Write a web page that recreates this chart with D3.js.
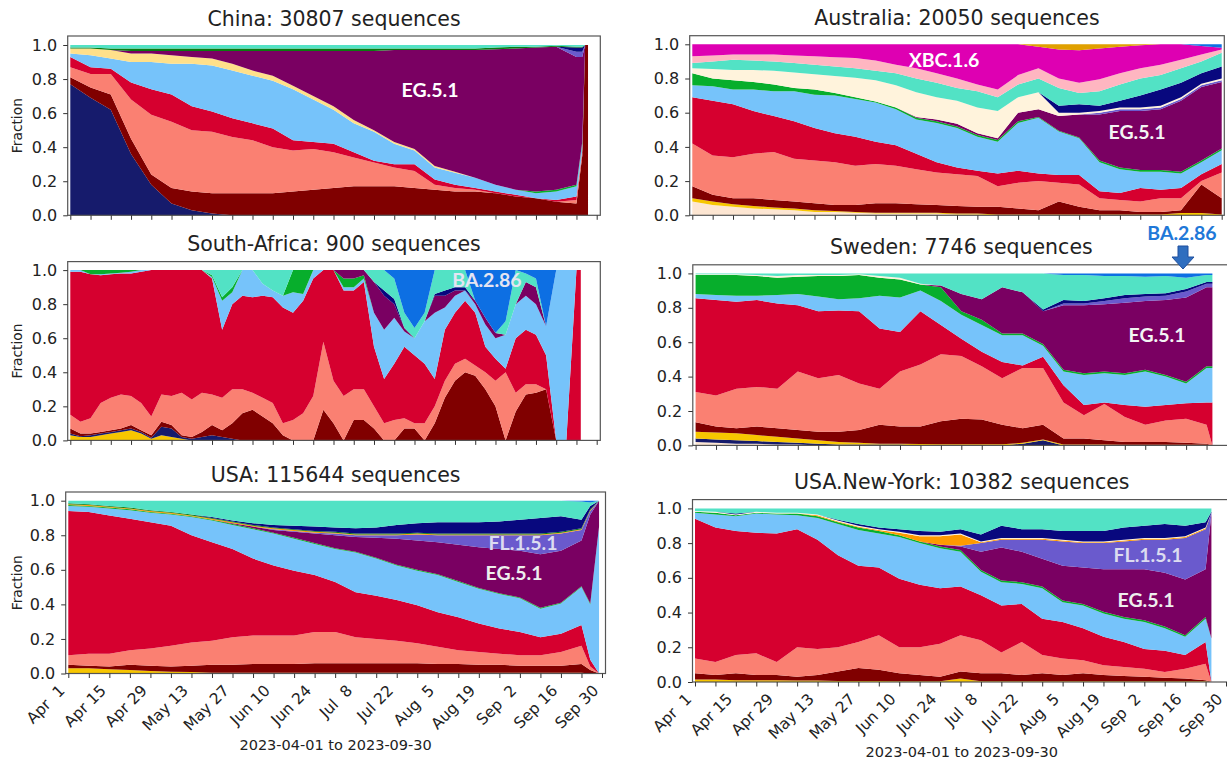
<!DOCTYPE html>
<html>
<head>
<meta charset="utf-8">
<script src="https://cdn.jsdelivr.net/npm/d3@7"></script>
<style>
  body { margin: 0; background: #fff; }
  text { font-family: "DejaVu Sans", sans-serif; fill: #222; }
  .lab { font-family: Lato, "Open Sans", sans-serif; font-weight: 700; }
</style>
</head>
<body>
<div id="chart"></div>
<script>
// sample days (days after 2023-04-01)
const weekDays = [0,7,14,21,28,35,42,49,56,63,70,77,84,91,98,105,112,119,126,133,140,147,154,161,168,175];
const chinaDays = weekDays.concat([177,178,179]);
const saDays = [0,3.5,7,10.5,14,17.5,21,24.5,28,31.5,35,38.5,42,45.5,49,52.5,56,59.5,63,66.5,70,73.5,77,80.5,84,87.5,
  91,94.5,98,101.5,105,108.5,112,115.5,119,122.5,126,129.5,133,136.5,140,143.5,147,150.5,154,157.5,161,164.5,168,171.5,175,176.5];
const usaDays = weekDays.concat([178,181]);
const ausDays = weekDays.concat([182]);
const swedenDays = weekDays.concat([177]);
const nyDays = weekDays.concat([177]);

const lineageColors = {
  bisque: "#fde6d2", gold: "#f7c600", navyLow: "#161b6c", maroon: "#800000", salmon: "#fa8072",
  crimson: "#d6002f", skyblue: "#76c3fa", paleyellow: "#ffe08a", green: "#07ae2c", eg: "#7a0062",
  fl: "#6a5acd", orange: "#ff9a00", darkgreen: "#0a7a10", cream: "#fff3dc", navy: "#08087e",
  turquoise: "#52e2c5", pink: "#ffb6c1", magenta: "#de00b2", amber: "#e0a000", ba286: "#0d6fe3"
};

// cumulative upper edge of each lineage band (bottom to top); the top lineage fills up to 1
const chinaTops = [
  ["navyLow",   [.77,.69,.62,.36,.18,.07,.03,.01,0,0,0,0,0,0,0,0,0,0,0,0,0,0,0,0,0,0,0,0,0]],
  ["maroon",    [.81,.75,.71,.45,.24,.16,.14,.13,.13,.13,.13,.14,.15,.16,.17,.17,.17,.16,.15,.14,.14,.13,.11,.10,.08,.07,.35,1,1]],
  ["salmon",    [.87,.83,.83,.68,.59,.55,.50,.49,.46,.44,.40,.38,.39,.37,.34,.31,.28,.26,.18,.16,.15,.13,.11,.08,.07,.09,.37,1,1]],
  ["crimson",   [.93,.87,.86,.78,.74,.71,.64,.61,.57,.54,.51,.44,.43,.42,.37,.32,.30,.30,.21,.18,.16,.14,.12,.09,.09,.11,.38,1,1]],
  ["skyblue",   [.95,.94,.92,.90,.90,.89,.89,.88,.85,.82,.79,.74,.68,.62,.54,.49,.42,.38,.28,.25,.22,.18,.15,.13,.14,.17,.42,1,1]],
  ["paleyellow",[.98,.98,.97,.95,.95,.94,.93,.92,.89,.85,.82,.76,.70,.64,.56,.50,.43,.39,.29,.255,.22,.18,.15,.13,.14,.17,.42,1,1]],
  ["green",     [.98,.98,.97,.95,.95,.94,.93,.92,.89,.85,.82,.76,.70,.64,.56,.50,.43,.39,.29,.255,.22,.18,.15,.14,.15,.18,.43,1,1]],
  ["eg",        [.98,.98,.97,.965,.965,.965,.965,.965,.965,.965,.965,.965,.965,.965,.965,.965,.97,.97,.97,.97,.97,.975,.98,.985,.99,.93,.93,1,1]],
  ["fl",        [.98,.98,.97,.965,.965,.965,.965,.965,.965,.965,.965,.965,.965,.965,.965,.965,.97,.97,.97,.97,.97,.975,.98,.985,.99,.96,.96,1,1]],
  ["navy",      [.98,.98,.97,.965,.965,.965,.965,.965,.965,.965,.965,.965,.965,.965,.965,.965,.97,.97,.97,.97,.97,.975,.98,.985,.99,.985,.985,1,1]],
  ["darkgreen", [.985,.985,.98,.98,.98,.98,.98,.98,.98,.98,.98,.98,.98,.98,.98,.98,.98,.98,.98,.98,.98,.985,.99,.99,.995,.99,.99,1,1]]
];

const saTops = [
  ["gold",     [.03,.02,.02,.03,.04,.05,.06,.04,.01,.03,.02,.01,0,0,0,0,0,0,0,0,0,0,0,0,0,0,0,0,0,0,0,0,0,0,0,0,0,0,0,0,0,0,0,0,0,0,0,0,0,0,0,0]],
  ["navyLow",  [.04,.025,.03,.04,.05,.06,.07,.05,.015,.08,.07,.02,.01,.02,.03,.02,.01,0,0,0,0,0,0,0,0,0,0,0,0,0,0,0,0,0,0,0,0,0,0,0,0,0,0,0,0,0,0,0,0,0,0,0]],
  ["maroon",   [.07,.04,.04,.05,.06,.07,.09,.06,.03,.11,.09,.03,.02,.05,.09,.06,.10,.16,.18,.14,.10,.03,0,0,0,.18,.10,0,.12,.12,.07,0,0,.07,.07,0,.10,.25,.35,.40,.38,.30,.20,0,.17,.27,.28,.30,0,0,0,0]],
  ["salmon",   [.15,.11,.13,.22,.25,.27,.26,.22,.14,.27,.26,.28,.24,.28,.27,.25,.30,.30,.28,.25,.22,.10,.12,.16,.26,.58,.35,.26,.30,.30,.20,.10,.12,.13,.10,.10,.20,.35,.45,.48,.44,.40,.35,.40,.28,.33,.33,.30,0,0,0,0]],
  ["crimson",  [.99,.99,.975,.97,.975,.98,.98,.99,1,1,1,1,1,1,.95,.65,.80,.85,.84,.85,.84,.78,.75,.82,.95,1,1,.88,.88,.93,.55,.36,.45,.55,.50,.45,.36,.65,.75,.82,.75,.55,.48,.42,.60,.65,.62,.50,0,0,1,1]],
  ["skyblue",  [1,1,.975,.975,.98,.985,.99,1,1,1,1,1,1,1,.96,.82,.87,1,1,.92,.88,.85,.87,.86,1,1,1,.90,.90,.95,.75,.65,.72,.64,.60,.70,.75,.78,.85,.88,.80,.68,.60,.62,.80,.85,.80,.67,1,1,1,1]],
  ["green",    [1,1,1,1,1,1,1,1,1,1,1,1,1,1,.97,.84,.90,1,1,.92,.88,.85,1,1,1,1,1,.95,.95,.97,.75,.65,.72,.64,.60,.70,.75,.78,.85,.88,.80,.68,.60,.62,.80,.85,.80,.67,1,1,1,1]],
  ["eg",       [1,1,1,1,1,1,1,1,1,1,1,1,1,1,.97,.84,.90,1,1,.92,.88,.85,1,1,1,1,1,1,1,1,.93,.85,.80,.66,.60,.70,.85,.85,.88,.88,.82,.72,.63,.62,.80,.93,.90,.67,1,1,1,1]],
  ["navy",     [1,1,1,1,1,1,1,1,1,1,1,1,1,1,.97,.84,.90,1,1,.92,.88,.85,1,1,1,1,1,1,1,1,.93,.88,.83,.66,.60,.70,.86,.88,.90,.90,.82,.72,.63,.62,.80,.93,.90,.67,1,1,1,1]],
  ["turquoise",[1,1,1,1,1,1,1,1,1,1,1,1,1,1,1,1,1,1,1,1,1,1,1,1,1,1,1,1,1,1,1,1,.95,.75,.66,.75,1,1,1,1,.82,.72,.63,.70,1,.98,.95,.67,1,1,1,1]]
];

const usaTops = [
  ["gold",     [.03,.03,.025,.02,.015,.01,.008,.005,.004,.004,.004,.004,.004,.004,.004,.004,.004,.004,.004,.004,.004,.004,.004,.004,.004,.004,0,0]],
  ["maroon",   [.05,.045,.04,.05,.045,.04,.045,.05,.05,.055,.055,.055,.06,.06,.06,.06,.06,.06,.055,.055,.05,.05,.045,.045,.045,.055,.02,0]],
  ["salmon",   [.105,.115,.115,.135,.145,.16,.18,.19,.21,.22,.22,.22,.24,.24,.21,.20,.19,.175,.155,.135,.125,.115,.105,.105,.125,.16,.04,0]],
  ["crimson",  [.94,.935,.915,.895,.875,.855,.80,.76,.72,.665,.625,.595,.57,.53,.47,.45,.425,.395,.355,.325,.29,.26,.24,.21,.23,.28,.08,0]],
  ["skyblue",  [.97,.965,.955,.945,.93,.92,.905,.885,.86,.835,.81,.78,.75,.72,.70,.665,.625,.595,.57,.53,.49,.46,.435,.375,.405,.50,.40,.85]],
  ["green",    [.975,.97,.96,.95,.935,.925,.91,.89,.865,.84,.815,.785,.755,.725,.705,.67,.63,.60,.575,.535,.495,.465,.44,.38,.41,.505,.405,.85]],
  ["eg",       [.975,.97,.96,.95,.935,.925,.91,.89,.87,.85,.83,.82,.81,.80,.79,.785,.78,.77,.76,.745,.73,.72,.71,.69,.71,.77,.92,1]],
  ["fl",       [.975,.97,.96,.95,.935,.925,.91,.89,.87,.85,.835,.825,.815,.81,.80,.80,.80,.805,.80,.80,.80,.80,.80,.80,.81,.83,.94,1]],
  ["orange",   [.98,.975,.965,.955,.94,.93,.915,.895,.875,.855,.84,.83,.82,.815,.805,.805,.805,.81,.805,.805,.805,.805,.805,.805,.815,.835,.945,1]],
  ["darkgreen",[.985,.98,.97,.96,.945,.935,.92,.90,.88,.86,.845,.835,.825,.82,.81,.81,.81,.815,.81,.81,.81,.81,.81,.81,.82,.84,.95,1]],
  ["navy",     [.985,.98,.97,.96,.945,.935,.92,.905,.885,.87,.86,.855,.85,.845,.84,.845,.86,.87,.875,.875,.875,.88,.89,.90,.91,.89,.97,1]],
  ["turquoise",[1,1,1,1,1,1,1,1,1,1,1,1,1,1,1,1,1,1,1,1,1,1,1,1,1,.995,.99,1]]
];

const ausTops = [
  ["bisque",   [.08,.06,.05,.04,.035,.03,.02,.02,.015,.01,.01,.01,.01,.005,.005,0,0,0,0,0,0,0,0,0,0,0,0]],
  ["gold",     [.10,.08,.065,.055,.045,.04,.03,.025,.02,.015,.015,.015,.015,.01,.01,.005,.005,.005,.005,.005,.005,.005,.005,.005,.013,.013,.005]],
  ["maroon",   [.17,.12,.10,.10,.09,.08,.07,.06,.06,.07,.07,.065,.06,.055,.05,.05,.04,.03,.08,.05,.03,.03,.02,.02,.03,.18,.10]],
  ["salmon",   [.42,.35,.34,.36,.37,.33,.32,.31,.29,.30,.29,.27,.25,.24,.23,.17,.19,.20,.19,.18,.10,.09,.08,.10,.10,.20,.25]],
  ["crimson",  [.69,.67,.65,.61,.58,.55,.51,.48,.46,.43,.41,.36,.31,.28,.26,.245,.26,.245,.235,.235,.14,.13,.16,.15,.16,.24,.30]],
  ["skyblue",  [.76,.755,.735,.735,.725,.725,.705,.70,.68,.66,.62,.56,.54,.51,.46,.43,.54,.57,.49,.45,.31,.27,.255,.255,.245,.31,.38]],
  ["green",    [.83,.80,.79,.78,.765,.745,.735,.715,.69,.665,.63,.57,.55,.52,.47,.44,.55,.575,.495,.455,.32,.28,.265,.265,.255,.32,.39]],
  ["eg",       [.83,.80,.79,.78,.765,.745,.735,.715,.69,.665,.63,.575,.56,.535,.48,.45,.60,.62,.58,.59,.59,.61,.61,.62,.67,.75,.78]],
  ["fl",       [.83,.80,.79,.78,.765,.745,.735,.715,.69,.665,.63,.575,.56,.535,.48,.45,.60,.62,.58,.59,.60,.62,.62,.63,.68,.76,.79]],
  ["cream",    [.86,.855,.85,.85,.845,.835,.825,.815,.805,.79,.76,.72,.69,.67,.63,.61,.69,.72,.60,.60,.61,.63,.63,.64,.69,.77,.80]],
  ["navy",     [.86,.855,.85,.85,.845,.835,.825,.815,.805,.79,.76,.72,.69,.67,.63,.61,.69,.72,.64,.65,.64,.67,.70,.735,.775,.83,.87]],
  ["turquoise",[.89,.90,.91,.905,.90,.89,.88,.87,.86,.845,.83,.80,.775,.745,.725,.69,.765,.80,.745,.715,.725,.765,.80,.82,.86,.90,.95]],
  ["pink",     [.93,.935,.94,.94,.94,.935,.93,.925,.92,.905,.88,.86,.83,.80,.765,.735,.82,.86,.80,.775,.795,.83,.86,.88,.91,.94,.97]],
  ["magenta",  [1,1,1,1,1,1,1,1,1,1,1,1,1,1,1,1,1,.985,.97,.965,.975,.985,.995,1,1,.99,.98]],
  ["amber",    [1,1,1,1,1,1,1,1,1,1,1,1,1,1,1,1,1,1,1,1,1,1,1,1,1,.99,.98]]
];

const swedenTops = [
  ["bisque",   [.02,.015,.01,.01,.005,.005,0,0,0,0,0,0,0,0,0,0,0,0,0,0,0,0,0,0,0,0,0]],
  ["navyLow",  [.04,.035,.03,.025,.02,.015,.01,.005,.005,.005,.005,0,0,0,0,0,.01,.03,0,0,0,0,0,0,0,0,0]],
  ["gold",     [.08,.075,.07,.06,.05,.04,.03,.02,.015,.01,.01,.008,.006,.006,.006,.006,.015,.035,.005,.005,.005,.004,.004,.004,.004,.004,0]],
  ["maroon",   [.135,.11,.10,.11,.10,.09,.08,.08,.09,.12,.11,.11,.14,.155,.15,.12,.10,.12,.04,.04,.03,.02,.02,.02,.015,.01,0]],
  ["salmon",   [.31,.29,.33,.34,.33,.43,.39,.41,.36,.33,.43,.47,.53,.52,.46,.39,.45,.45,.25,.175,.24,.165,.12,.145,.155,.12,0]],
  ["crimson",  [.855,.845,.835,.845,.825,.815,.78,.785,.78,.68,.66,.78,.70,.62,.545,.485,.465,.515,.35,.235,.25,.235,.225,.235,.245,.25,.25]],
  ["skyblue",  [.88,.875,.87,.87,.875,.88,.865,.85,.855,.87,.86,.90,.84,.76,.70,.64,.64,.58,.43,.41,.42,.41,.43,.40,.36,.45,.45]],
  ["green",    [.99,.99,.99,.985,.975,.98,.985,.985,.99,.975,.965,.935,.92,.78,.73,.65,.65,.59,.44,.42,.43,.42,.44,.41,.37,.46,.46]],
  ["eg",       [.99,.99,.99,.985,.975,.98,.985,.985,.99,.975,.965,.935,.93,.88,.85,.92,.89,.78,.815,.815,.82,.83,.84,.845,.86,.92,.92]],
  ["fl",       [.99,.99,.99,.985,.975,.98,.985,.985,.99,.975,.965,.935,.93,.88,.85,.92,.89,.78,.825,.825,.84,.855,.865,.87,.895,.94,.94]],
  ["cream",    [.995,.995,.995,.99,.985,.99,.99,.99,.995,.985,.975,.94,.93,.88,.85,.92,.89,.78,.825,.825,.84,.855,.865,.87,.895,.94,.94]],
  ["navy",     [.995,.995,.995,.99,.985,.99,.99,.99,.995,.985,.975,.94,.93,.88,.85,.92,.89,.79,.845,.84,.855,.875,.88,.885,.91,.95,.95]],
  ["turquoise",[1,1,1,1,1,1,1,1,1,1,1,1,1,1,1,1,1,1,.99,.99,.985,.985,.98,.985,.975,.99,.99]]
];

const nyTops = [
  ["gold",     [.015,.015,.01,.01,.01,.008,.008,.006,.006,.006,.005,.005,.005,.02,.005,.005,.005,.005,.005,.005,.005,.005,.004,.004,.004,.004,0]],
  ["maroon",   [.05,.04,.05,.04,.04,.03,.04,.06,.08,.07,.05,.04,.03,.06,.05,.05,.04,.05,.04,.05,.04,.035,.03,.025,.02,.01,0]],
  ["salmon",   [.135,.115,.155,.165,.115,.20,.19,.20,.23,.27,.20,.20,.22,.27,.24,.17,.23,.155,.135,.125,.096,.087,.077,.058,.077,.105,0]],
  ["crimson",  [.94,.89,.87,.86,.855,.88,.82,.73,.67,.66,.595,.56,.54,.55,.50,.44,.45,.365,.345,.31,.26,.23,.19,.18,.155,.23,0]],
  ["skyblue",  [.975,.965,.955,.97,.965,.96,.945,.91,.875,.855,.835,.80,.77,.75,.635,.575,.565,.54,.46,.44,.395,.365,.345,.31,.26,.365,.25]],
  ["green",    [.98,.975,.96,.975,.97,.97,.955,.92,.89,.87,.845,.81,.78,.76,.645,.585,.575,.55,.47,.45,.405,.375,.355,.32,.27,.375,.25]],
  ["eg",       [.98,.975,.96,.975,.97,.97,.955,.92,.89,.87,.845,.81,.79,.78,.75,.775,.75,.71,.67,.66,.65,.65,.65,.63,.59,.65,.97]],
  ["fl",       [.98,.975,.96,.975,.97,.97,.955,.92,.89,.87,.845,.81,.79,.785,.80,.82,.82,.82,.81,.80,.80,.81,.82,.82,.83,.88,.975]],
  ["orange",   [.98,.975,.96,.975,.97,.97,.96,.925,.895,.875,.86,.84,.84,.85,.805,.825,.825,.825,.815,.805,.805,.815,.825,.825,.835,.885,.975]],
  ["cream",    [.985,.98,.965,.98,.975,.975,.965,.93,.90,.88,.865,.845,.845,.855,.81,.83,.83,.83,.82,.81,.81,.82,.83,.83,.84,.89,.975]],
  ["navy",     [.985,.98,.97,.98,.975,.975,.965,.935,.91,.89,.88,.87,.865,.88,.85,.90,.88,.88,.87,.87,.87,.89,.90,.91,.90,.92,.98]]
];

const yTicks = [0, 0.2, 0.4, 0.6, 0.8, 1.0];
const rangeLabel = "2023-04-01 to 2023-09-30";

// layout: frame [left, top, right, bottom], x range for Apr 1..Sep 30, y range for 0..1
const panels = [
  {title: "China: 30807 sequences", days: chinaDays, tops: chinaTops, topKey: "turquoise",
   frame: [67.7, 36, 600.3, 215.3], xr: [70.3, 596.7], yr: [215.3, 45], fraction: true, dates: false},
  {title: "South-Africa: 900 sequences", days: saDays, tops: saTops, topKey: "ba286",
   frame: [67.7, 261.6, 600.3, 440.4], xr: [70.3, 596.7], yr: [440.4, 270.1], fraction: true, dates: false},
  {title: "USA: 115644 sequences", days: usaDays, tops: usaTops, topKey: "ba286",
   frame: [65.7, 492, 605.5, 673.5], xr: [68.3, 602], yr: [673.5, 500.7], fraction: true, dates: true, rangeY: 750},
  {title: "Australia: 20050 sequences", days: ausDays, tops: ausTops, topKey: "ba286",
   frame: [689.7, 35.7, 1224.3, 215.3], xr: [692.3, 1221.7], yr: [215.3, 44.3], fraction: false, dates: false},
  {title: "Sweden: 7746 sequences", days: swedenDays, tops: swedenTops, topKey: "ba286",
   frame: [692.8, 264.8, 1230, 445.4], xr: [695.6, 1227], yr: [445.4, 273.4], fraction: false, dates: false},
  {title: "USA.New-York: 10382 sequences", days: nyDays, tops: nyTops, topKey: "turquoise",
   frame: [692.5, 499.6, 1231, 682], xr: [695, 1226], yr: [682, 508.4], fraction: false, dates: true, rangeY: 757}
];

const annotations = [
  {text: "EG.5.1", x: 430, y: 97, fill: "#ffffff"},
  {text: "XBC.1.6", x: 944, y: 67, fill: "#ffffff"},
  {text: "EG.5.1", x: 1137, y: 139, fill: "#f4f4f4"},
  {text: "BA.2.86", x: 487, y: 287, fill: "#e4e4f2"},
  {text: "EG.5.1", x: 1157, y: 342, fill: "#f4f4f4"},
  {text: "FL.1.5.1", x: 523, y: 550, fill: "#dcdcf0"},
  {text: "EG.5.1", x: 514, y: 580, fill: "#eeeeee"},
  {text: "FL.1.5.1", x: 1148, y: 562, fill: "#dcdcf0"},
  {text: "EG.5.1", x: 1146, y: 607, fill: "#eeeeee"},
  {text: "BA.2.86", x: 1182, y: 240, fill: "#1f78d8"}
];

const start = Date.UTC(2023, 3, 1);
const dayToDate = d => new Date(start + d * 864e5);
const fmtDate = d3.utcFormat("%b %e");

const svg = d3.select("#chart").append("svg")
  .attr("width", 1227)
  .attr("height", 759);

function drawPanel(p) {
  const [fl, ft, fr, fb] = p.frame;
  const x = d3.scaleUtc().domain([dayToDate(0), dayToDate(182)]).range(p.xr);
  const y = d3.scaleLinear().domain([0, 1]).range(p.yr);
  const g = svg.append("g");

  // tops -> shares per day, then stack them again
  const keys = p.tops.map(s => s[0]).concat([p.topKey]);
  const rows = p.days.map((d, i) => {
    const row = {date: dayToDate(d)};
    let prev = 0;
    p.tops.forEach(([k, tops]) => {
      const t = Math.max(prev, tops[i]);
      row[k] = t - prev;
      prev = t;
    });
    row[p.topKey] = Math.max(0, 1 - prev);
    return row;
  });
  const stacked = d3.stack().keys(keys)(rows);

  const area = d3.area()
    .x(d => x(d.data.date))
    .y0(d => y(d[0]))
    .y1(d => y(d[1]));

  g.selectAll("path.band")
    .data(stacked)
    .join("path")
      .attr("class", "band")
      .attr("fill", s => lineageColors[s.key])
      .attr("d", area);

  // frame
  g.append("rect")
    .attr("x", fl).attr("y", ft)
    .attr("width", fr - fl).attr("height", fb - ft)
    .attr("fill", "none")
    .attr("stroke", "#555")
    .attr("stroke-width", 1.2);

  // y axis
  const ya = g.append("g")
    .attr("transform", `translate(${fl},0)`)
    .call(d3.axisLeft(y).tickValues(yTicks).tickFormat(d3.format(".1f")).tickSize(4.5).tickPadding(6))
    .attr("font-family", "DejaVu Sans")
    .attr("font-size", 16)
    .attr("color", "#333");
  ya.select(".domain").remove();

  // x axis, ticks each Saturday (weekly from Apr 1)
  const weeks = d3.utcSaturday.range(dayToDate(0), dayToDate(183));
  const xa = g.append("g")
    .attr("transform", `translate(0,${fb})`)
    .call(d3.axisBottom(x).tickValues(weeks).tickSize(4.5)
      .tickFormat((d, i) => p.dates && i % 2 === 0 ? fmtDate(d) : ""))
    .attr("font-family", "DejaVu Sans")
    .attr("font-size", 15.5)
    .attr("color", "#333");
  xa.select(".domain").remove();
  xa.selectAll("text")
    .attr("y", 0)
    .attr("dy", null)
    .attr("text-anchor", "end")
    .style("white-space", "pre")
    .attr("transform", "translate(-3,18) rotate(-45)");

  // title
  g.append("text")
    .attr("x", (fl + fr) / 2)
    .attr("y", ft - 10.5)
    .attr("text-anchor", "middle")
    .attr("font-size", 20.5)
    .text(p.title);

  if (p.fraction) {
    g.append("text")
      .attr("transform", `translate(21.5,${(ft + fb) / 2}) rotate(-90)`)
      .attr("text-anchor", "middle")
      .attr("font-size", 13.8)
      .text("Fraction");
  }
  if (p.dates) {
    g.append("text")
      .attr("x", (fl + fr) / 2)
      .attr("y", p.rangeY)
      .attr("text-anchor", "middle")
      .attr("font-size", 14.5)
      .text(rangeLabel);
  }
}

panels.forEach(drawPanel);

// lineage labels
svg.selectAll("text.lab")
  .data(annotations)
  .join("text")
    .attr("class", "lab")
    .attr("x", d => d.x)
    .attr("y", d => d.y)
    .attr("text-anchor", "middle")
    .attr("font-size", 19.5)
    .style("fill", d => d.fill)
    .text(d => d.text);

// arrow pointing at BA.2.86 in Sweden
svg.append("path")
  .attr("d", "M1178,246 L1188,246 L1188,257 L1194,257 L1183,269 L1172,257 L1178,257 Z")
  .attr("fill", "#2f6ebf")
  .attr("stroke", "#1f4f9f")
  .attr("stroke-width", 1);
</script>
</body>
</html>
